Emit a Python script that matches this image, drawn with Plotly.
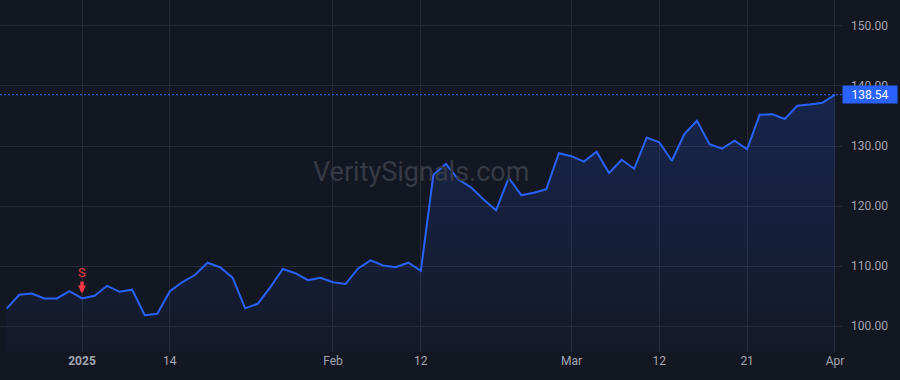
import plotly.graph_objects as go

dates = [
    "2024-12-23", "2024-12-24", "2024-12-26", "2024-12-27", "2024-12-30", "2024-12-31",
    "2025-01-02", "2025-01-03", "2025-01-06", "2025-01-07", "2025-01-08", "2025-01-10",
    "2025-01-13", "2025-01-14", "2025-01-15", "2025-01-16", "2025-01-17", "2025-01-21",
    "2025-01-22", "2025-01-23", "2025-01-24", "2025-01-27", "2025-01-28", "2025-01-29",
    "2025-01-30", "2025-01-31",
    "2025-02-03", "2025-02-04", "2025-02-05", "2025-02-06", "2025-02-07", "2025-02-10",
    "2025-02-11", "2025-02-12", "2025-02-13", "2025-02-14", "2025-02-18", "2025-02-19",
    "2025-02-20", "2025-02-21", "2025-02-24", "2025-02-25", "2025-02-26", "2025-02-27",
    "2025-02-28",
    "2025-03-03", "2025-03-04", "2025-03-05", "2025-03-06", "2025-03-07", "2025-03-10",
    "2025-03-11", "2025-03-12", "2025-03-13", "2025-03-14", "2025-03-17", "2025-03-18",
    "2025-03-19", "2025-03-20", "2025-03-21", "2025-03-24", "2025-03-25", "2025-03-26",
    "2025-03-27", "2025-03-28", "2025-03-31",
    "2025-04-01",
]

prices = [
    102.9, 105.2, 105.4, 104.6, 104.6, 105.8,
    104.6, 105.05, 106.7, 105.7, 106.05, 101.8,
    102.05, 105.8, 107.3, 108.5, 110.55, 109.8,
    108.05, 102.95, 103.7, 106.45, 109.5, 108.8,
    107.65, 108.05,
    107.3, 107.0, 109.6, 110.95, 110.1, 109.8,
    110.55, 109.2, 125.2, 127.0, 124.4, 123.1,
    121.1, 119.3, 124.7, 121.8, 122.2, 122.8,
    128.8,
    128.3, 127.4, 129.05, 125.5, 127.7, 126.2,
    131.4, 130.6, 127.55, 132.0, 134.2, 130.3,
    129.55, 130.9, 129.45, 135.2, 135.3, 134.5,
    136.7, 136.9, 137.2,
    138.54,
]

tick_dates = ["2025-01-02", "2025-01-14", "2025-02-03", "2025-02-12",
              "2025-03-03", "2025-03-12", "2025-03-21", "2025-04-01"]
tick_labels = ["<b>2025</b>", "14", "Feb", "12", "Mar", "12", "21", "Apr"]

y_ticks = [100, 110, 120, 130, 140, 150]

signal_date = "2025-01-02"
signal_label = "S"
last_price = prices[-1]

BG = "#131722"
GRID = "#262a35"
BLUE = "#2962ff"
RED = "#f23645"
TXT = "#a3a6af"
FONT = "Roboto, Arial, sans-serif"

fig = go.Figure()
fig.add_trace(go.Scatter(
    x=dates, y=prices, mode="lines",
    line=dict(color=BLUE, width=2),
    fill="tozeroy",
    fillgradient=dict(type="vertical", start=95.6, stop=140,
                      colorscale=[[0, "rgba(41,98,255,0.03)"], [1, "rgba(41,98,255,0.2)"]]),
    hoverinfo="skip", showlegend=False,
))

fig.add_shape(type="line", xref="paper", x0=0, x1=1, yref="y", y0=last_price, y1=last_price,
              line=dict(color=BLUE, width=1, dash="2px,2px"), layer="above")

fig.add_annotation(xref="paper", x=1.0, xanchor="left", yref="y", y=last_price,
                   text=f"{last_price:.2f}", showarrow=False,
                   bgcolor=BLUE, font=dict(color="white", size=12, family=FONT),
                   borderpad=1, width=52, height=15, align="center")

fig.add_annotation(xref="paper", yref="paper", x=0.5, y=0.51,
                   text="VeritySignals.com", showarrow=False,
                   font=dict(size=27, color="#363a45", family=FONT))

sig_idx = dates.index(signal_date)
fig.add_annotation(x=signal_date, y=prices[sig_idx], text=signal_label,
                   showarrow=True, ax=0, ay=-26, arrowhead=2, arrowsize=0.45,
                   arrowwidth=3.5, arrowcolor=RED, standoff=5,
                   font=dict(color=RED, size=13, family=FONT))

fig.update_xaxes(
    type="category", range=[-0.534, 66.56],
    tickmode="array", tickvals=tick_dates, ticktext=tick_labels,
    showgrid=True, gridcolor=GRID, gridwidth=1, zeroline=False,
    showline=False, ticks="", tickfont=dict(color=TXT, size=12, family=FONT),
)
fig.update_yaxes(
    side="right", range=[95.67, 154.33],
    tickmode="array", tickvals=y_ticks, tickformat=".2f",
    showgrid=True, gridcolor=GRID, gridwidth=1, zeroline=False,
    showline=False, ticks="", ticklabelstandoff=8,
    tickfont=dict(color=TXT, size=12, family=FONT),
)
fig.update_layout(
    width=900, height=380,
    margin=dict(l=0, r=58, t=0, b=28),
    paper_bgcolor=BG, plot_bgcolor=BG,
    showlegend=False,
)

fig.write_html("out.html")
